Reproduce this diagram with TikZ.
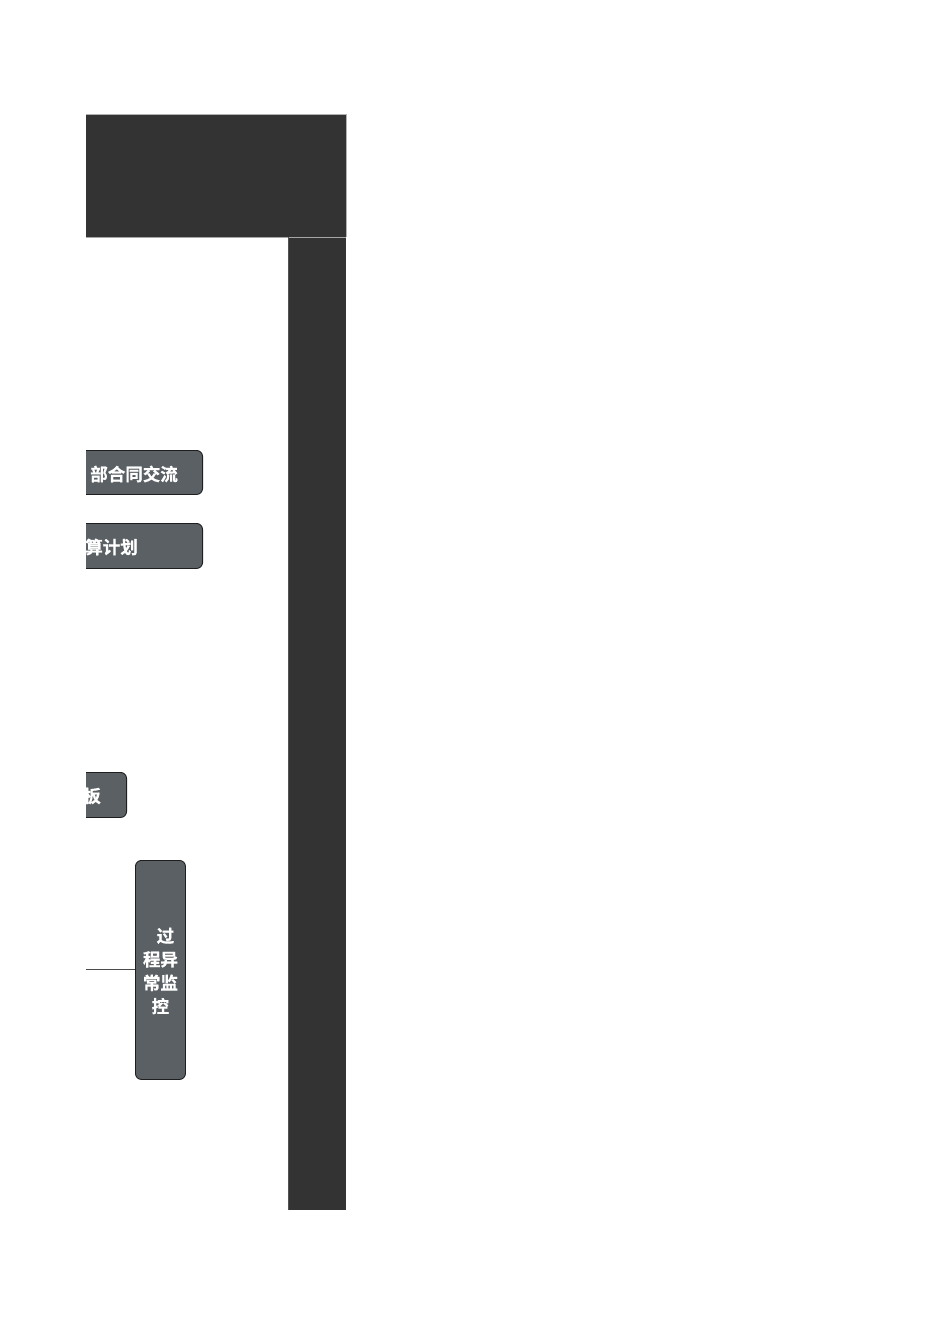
\documentclass[tikz,border=0pt]{standalone}
\usepackage{fontspec}
\newfontfamily\cjk{Noto Sans CJK SC}[BoldFont={Noto Sans CJK SC Bold},BoldFeatures={FakeBold=0.6}]
\usetikzlibrary{positioning}

\definecolor{board}{HTML}{333333}
\definecolor{panel}{HTML}{5A6064}
\definecolor{rim}{HTML}{1E1E1E}

\tikzset{
  panelbox/.style={rectangle,rounded corners=6pt,draw=rim,line width=0.9pt,fill=panel,inner sep=0pt},
  paneltext/.style={text=white,inner sep=0pt,font=\cjk\bfseries\fontsize{17.5}{23.5}\selectfont}
}

\begin{document}
\begin{tikzpicture}[x=1pt,y=-1pt]
  \useasboundingbox (0,0) rectangle (950,1344);

  \begin{scope}
    \clip (86,0) rectangle (950,1344);

    % dark frame
    \fill[board] (40,114) rectangle (346,237);
    \draw[gray!60,line width=0.8pt] (40,114) -- (346,114) -- (346,237);
    \fill[board] (288,237) rectangle (346,1210);
    \draw[gray!70,line width=0.8pt] (40,237) -- (346,237);
    \draw[gray!40!board,line width=0.6pt] (288,237) -- (288,1210);

    % panels
    \node[panelbox,minimum width=163pt,minimum height=44pt,anchor=north east] (coop)  at (203,450) {};
    \node[panelbox,minimum width=163pt,minimum height=45pt,anchor=north east] (plan)  at (203,523) {};
    \node[panelbox,minimum width=87pt,minimum height=45pt,anchor=north east]  (board) at (127,772) {};
    \node[panelbox,minimum width=50pt,minimum height=219pt,anchor=north west] (watch) at (135,860) {};

    \begin{scope}[every node/.style={paneltext}]
      \node[anchor=east] (coopTxt)  at (178,474) {部合同交流};
      \node[anchor=east] (planTxt)  at (138,547) {算计划};
      \node[anchor=east] (boardTxt) at (101,796) {板};
      \node[align=center] (watchTxt) at ([yshift=-1pt]watch.center) {\hspace*{10pt}过\\程异\\常监\\控};
    \end{scope}

    % connector
    \coordinate (feed) at (40,969);
    \draw[rim!80,line width=0.9pt] (feed) -- (feed -| watch.west);
  \end{scope}

\end{tikzpicture}
\end{document}
